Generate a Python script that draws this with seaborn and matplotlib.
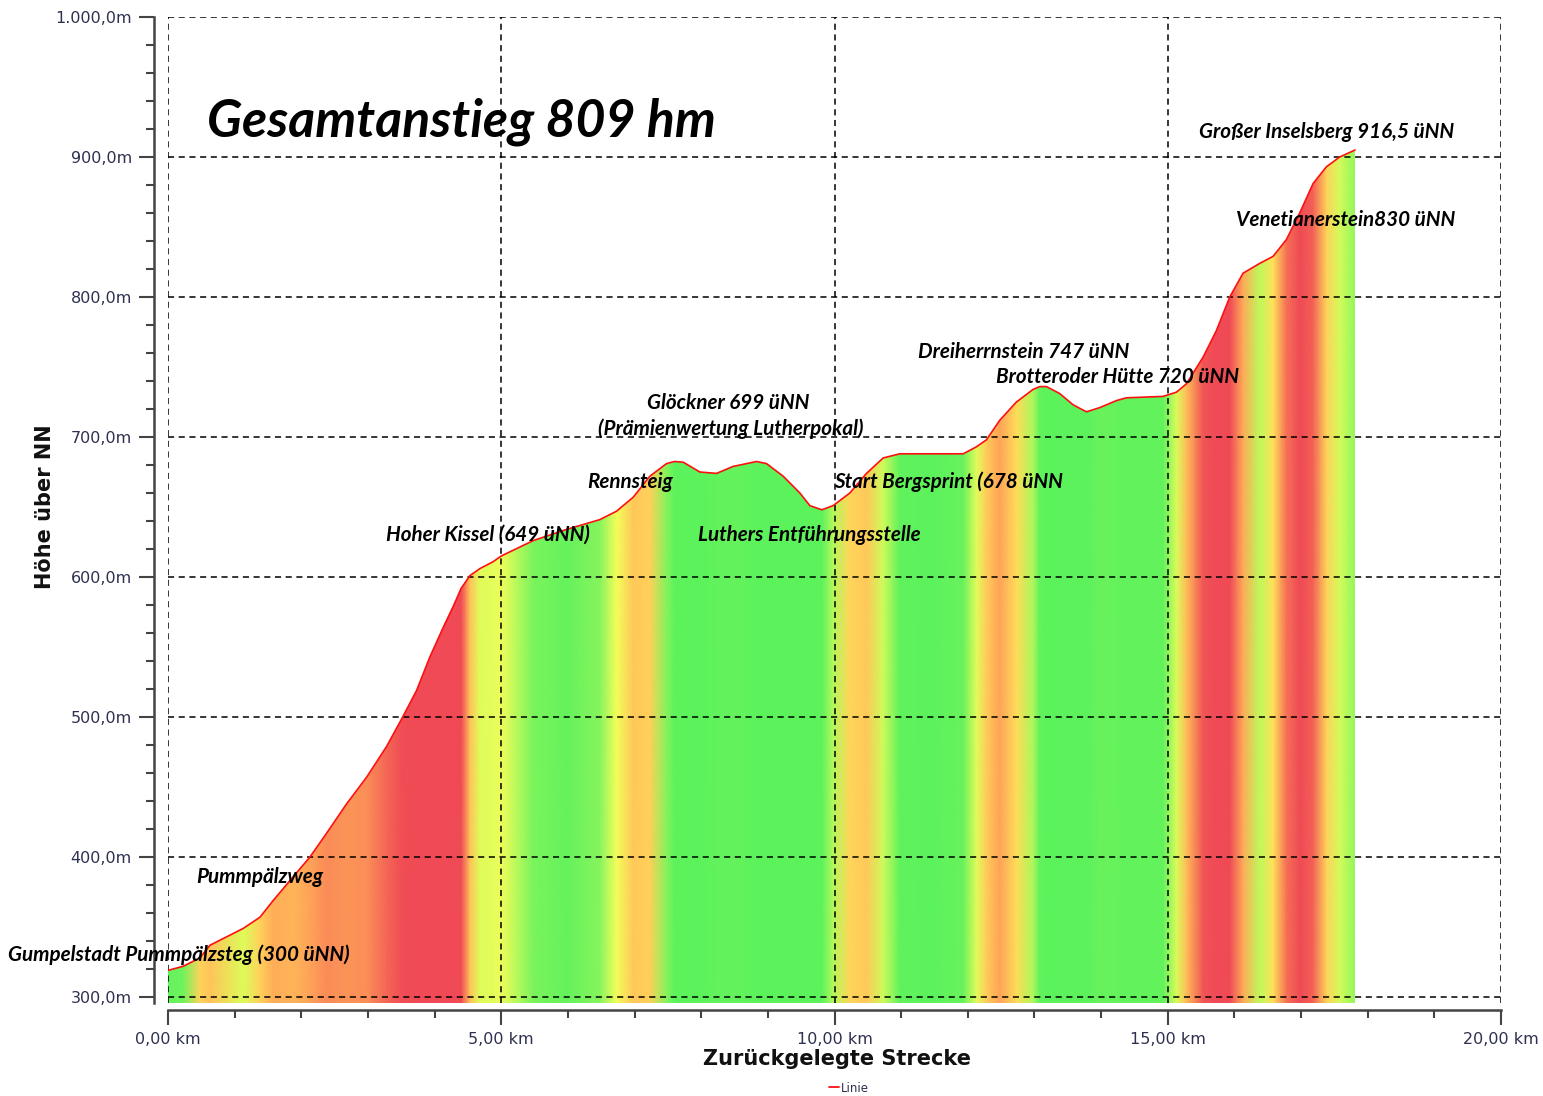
import numpy as np
import pandas as pd
import matplotlib
matplotlib.use("Agg")
import matplotlib.pyplot as plt
import seaborn as sns
from matplotlib.colors import LinearSegmentedColormap, Normalize
from matplotlib.ticker import FuncFormatter, MultipleLocator
from matplotlib.lines import Line2D

# ---------------- data ----------------
distance_km = [0.00, 0.23, 0.48, 0.63, 1.13, 1.38, 1.58, 1.88, 2.13, 2.38, 2.68, 2.98, 3.28,
               3.51, 3.73, 3.93, 4.13, 4.28, 4.40, 4.53, 4.68, 4.88, 5.00, 5.48, 5.98, 6.48, 6.73,
               6.98, 7.23, 7.48, 7.60, 7.73, 7.98, 8.23, 8.48, 8.83, 8.98, 9.23, 9.48, 9.63,
               9.81, 9.98, 10.23, 10.48, 10.73, 10.98, 11.48, 11.93, 12.13, 12.28, 12.48,
               12.73, 12.98, 13.08, 13.18, 13.38, 13.58, 13.78, 13.98, 14.23, 14.38, 14.93, 15.13,
               15.28, 15.53, 15.73, 15.93, 16.13, 16.38, 16.58, 16.78, 16.98, 17.18, 17.38,
               17.58, 17.81]
elevation_m = [319, 322, 328, 337, 349, 357, 369, 386, 400, 417, 438, 457, 479,
               499, 519, 543, 564, 579, 592, 601, 606, 611, 615, 626, 634, 641, 647,
               657, 672, 681, 682.5, 682, 675, 674, 679, 682.5, 681, 672, 660, 651,
               648, 651, 660, 674, 685, 688, 688, 688, 693, 698, 712,
               725, 734, 736, 736, 731, 723, 718, 721, 726, 728, 729, 732,
               738, 757, 776, 800, 817, 824, 829, 841, 860, 881, 893,
               900, 905]

label_texts = ["Gumpelstadt Pummpälzsteg (300 üNN)", "Pummpälzweg", "Hoher Kissel (649 üNN)",
               "Rennsteig", "Glöckner 699 üNN", "(Prämienwertung Lutherpokal)",
               "Luthers Entführungsstelle", "Start Bergsprint (678 üNN",
               "Dreiherrnstein 747 üNN", "Brotteroder Hütte 720 üNN",
               "Großer Inselsberg 916,5 üNN", "Venetianerstein830 üNN"]
label_km = [-2.40, 0.43, 3.27, 6.29, 8.41, 8.45, 7.95, 9.99, 11.25, 12.42, 15.47, 16.02]
label_m = [330, 386, 630, 668, 724, 706, 630, 668, 761, 743, 918, 855]
label_ha = ["left", "left", "left", "left", "center", "center", "left", "left",
            "left", "left", "left", "left"]

headline = "Gesamtanstieg 809 hm"
x_ticks_km = [0, 5, 10, 15, 20]
y_ticks_m = [300, 400, 500, 600, 700, 800, 900, 1000]

df = pd.DataFrame({"km": distance_km, "m": elevation_m})

# ---------------- style ----------------
sns.set_style("white")
plt.rcParams["font.family"] = ["DejaVu Sans"]

fig = plt.figure(figsize=(15.43, 10.96), dpi=100)
ax_left, ax_right = 168 / 1543, 1501 / 1543
ax_top, ax_bot = 1 - 17 / 1096, 1 - 1002.6 / 1096
ax = fig.add_axes([ax_left, ax_bot, ax_right - ax_left, ax_top - ax_bot])

ymin, ymax = 296, 1000
ax.set_xlim(0, 20)
ax.set_ylim(ymin, ymax)

# gradient fill coloured by slope
slope = np.gradient(df["m"].to_numpy(float), df["km"].to_numpy(float))  # m per km
cmap = LinearSegmentedColormap.from_list(
    "slope",
    [(0.0, "#5cf25c"), (0.17, "#66f25c"), (0.33, "#ffff5a"),
     (0.60, "#ffa958"), (0.90, "#ef4a55"), (1.0, "#ef4a55")])
norm = Normalize(vmin=0, vmax=100, clip=True)
X = np.vstack([df["km"], df["km"]])
Y = np.vstack([np.full(len(df), ymin), np.full(len(df), ymax)])
C = np.vstack([slope, slope])
mesh = ax.pcolormesh(X, Y, C, cmap=cmap, norm=norm, shading="gouraud", zorder=1)
poly = ax.fill_between(df["km"], df["m"], ymin, facecolor="none", edgecolor="none")
mesh.set_clip_path(poly.get_paths()[0], transform=ax.transData)

sns.lineplot(data=df, x="km", y="m", ax=ax, color="#ff1010", lw=1.2, zorder=3,
             label="Linie", legend=False)

# grid & axes
ax.set_xticks(x_ticks_km)
ax.set_yticks(y_ticks_m)
ax.xaxis.set_minor_locator(MultipleLocator(1))
ax.yaxis.set_minor_locator(MultipleLocator(20))
ax.grid(True, which="major", color="black", linestyle=(0, (4, 3)), lw=1.1)
ax.set_axisbelow(False)
ax.xaxis.set_major_formatter(FuncFormatter(lambda v, p: f"{v:.2f}".replace(".", ",") + " km"))
ax.yaxis.set_major_formatter(FuncFormatter(
    lambda v, p: f"{v:,.1f}".replace(",", "X").replace(".", ",").replace("X", ".") + "m"))
for s in ["top", "right"]:
    ax.spines[s].set_visible(False)
ax.spines["left"].set_position(("outward", 10))
ax.spines["bottom"].set_position(("outward", 5))
for s in ["left", "bottom"]:
    ax.spines[s].set_color("#444444")
    ax.spines[s].set_linewidth(1.8)
ax.tick_params(axis="both", which="both", bottom=True, left=True, top=False, right=False)
ax.tick_params(axis="both", which="major", length=11, width=1.5, color="#444444",
               labelsize=11.5, labelcolor="#2e3050", pad=5)
ax.tick_params(axis="both", which="minor", length=6, width=1.5, color="#444444")
ax.set_xlabel("")
ax.set_ylabel("")

# texts
ann_font = dict(family=["Lato", "DejaVu Sans"], style="italic", weight="bold")
for t, xk, ym, ha in zip(label_texts, label_km, label_m, label_ha):
    ax.text(xk, ym, t, ha=ha, va="center", fontsize=14.9, color="black",
            clip_on=False, zorder=5, **ann_font)
ax.text(0.585, 925, headline, ha="left", va="center", fontsize=37.3, color="black",
        zorder=5, **ann_font)

fig.text(837 / 1543, 1 - 1059 / 1096, "Zurückgelegte Strecke", ha="center", va="center",
         fontsize=15, weight="bold", color="#111111")
fig.text(45 / 1543, 1 - 507 / 1096, "Höhe über NN", ha="center", va="center",
         rotation=90, fontsize=15, weight="bold", color="#111111")

fig.legend(handles=[Line2D([0], [0], color="#ff1010", lw=1.3)], labels=["Linie"],
           loc="center", bbox_to_anchor=(849 / 1543, 1 - 1088 / 1096), frameon=False,
           fontsize=8.5, handlelength=0.8, handletextpad=0.2, labelcolor="#2e3050")

fig.savefig("out.png", dpi=100)
